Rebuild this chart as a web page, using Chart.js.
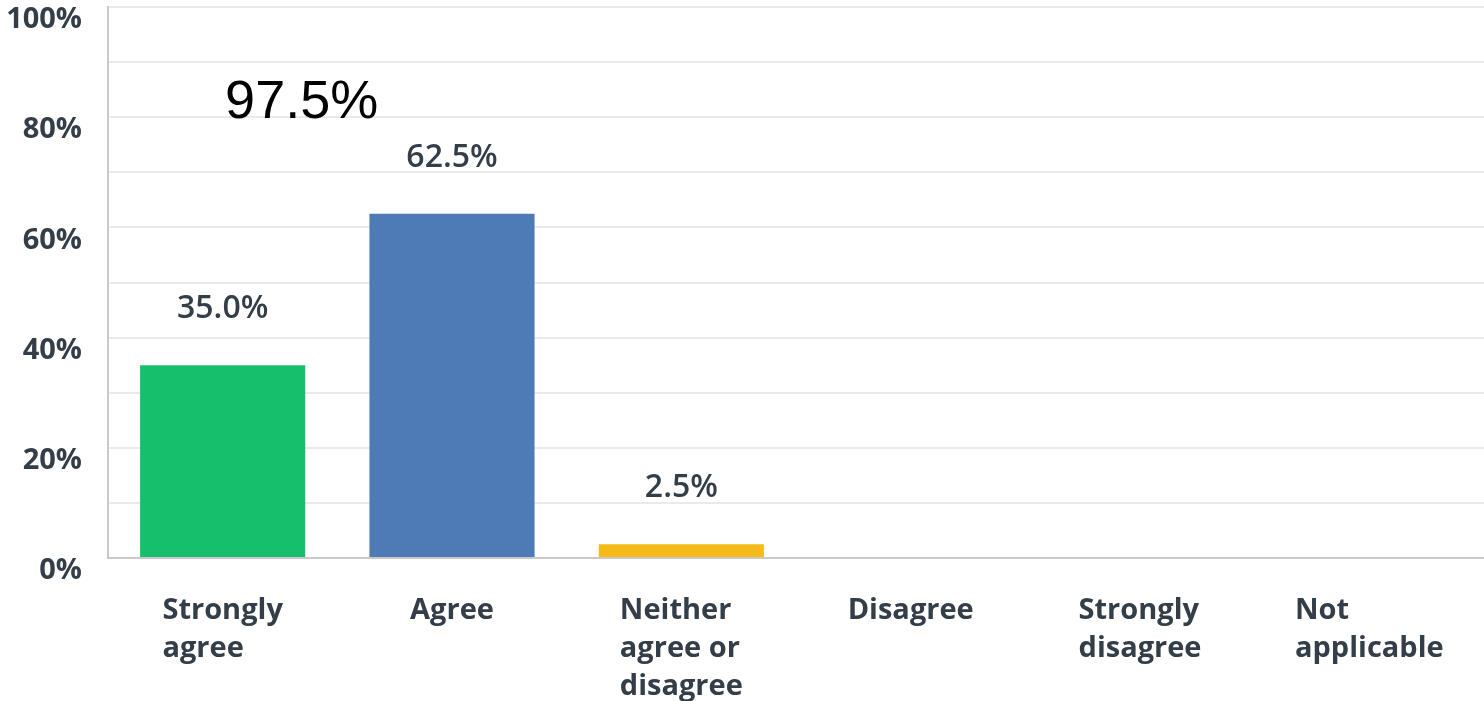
<!DOCTYPE html>
<html>
<head>
<meta charset="utf-8">
<script src="https://cdn.jsdelivr.net/npm/chart.js@4.4.0/dist/chart.umd.min.js"></script>
<style>
  html, body { margin: 0; padding: 0; background: #ffffff; }
  #wrap { width: 1484px; height: 701px; position: relative; }
</style>
</head>
<body>
<div id="wrap"><canvas id="c" width="1484" height="701"></canvas></div>
<script>
// ---- data ----
const categories = [
  ["Strongly", "agree"],
  ["Agree"],
  ["Neither", "agree or", "disagree"],
  ["Disagree"],
  ["Strongly", "disagree"],
  ["Not", "applicable"]
];
const values = [35.0, 62.5, 2.5, 0, 0, 0];
const valueLabels = ["35.0%", "62.5%", "2.5%", "", "", ""];
const barColors = ["#16bf6b", "#4e7ab5", "#f6bb1a", "#999999", "#999999", "#999999"];
const yTickLabels = { 0: "0%", 20: "20%", 40: "40%", 60: "60%", 80: "80%", 100: "100%" };
const annotationText = "97.5%";
const annotationValue = 82.5;

const textColor = "#333e48";
const labelFont = "700 29px 'Open Sans'";

const labelsPlugin = {
  id: 'customLabels',
  afterDatasetsDraw(chart) {
    const ctx = chart.ctx;
    const xs = chart.scales.x, ys = chart.scales.y;
    ctx.save();
    // value labels above bars
    ctx.font = "600 32px 'Open Sans'";
    ctx.fillStyle = textColor;
    ctx.textAlign = 'center';
    ctx.textBaseline = 'alphabetic';
    const meta = chart.getDatasetMeta(0);
    values.forEach((v, i) => {
      if (!valueLabels[i]) return;
      const bar = meta.data[i];
      ctx.fillText(valueLabels[i], bar.x, bar.y - 47);
    });
    // category labels: block centered, lines left-aligned
    ctx.font = labelFont;
    ctx.textAlign = 'left';
    ctx.textBaseline = 'alphabetic';
    categories.forEach((lines, i) => {
      const cx = xs.getPixelForValue(i);
      let maxW = 0;
      lines.forEach(l => { maxW = Math.max(maxW, ctx.measureText(l).width); });
      const left = cx - maxW / 2;
      lines.forEach((l, j) => {
        ctx.fillText(l, left, ys.bottom + 61 + j * 38);
      });
    });
    // annotation
    ctx.font = "54px 'Liberation Sans', Arial, sans-serif";
    ctx.fillStyle = "#000000";
    ctx.textAlign = 'center';
    ctx.textBaseline = 'middle';
    ctx.fillText(annotationText, xs.getPixelForValue(0) + 79, ys.getPixelForValue(annotationValue));
    ctx.restore();
  }
};

new Chart(document.getElementById('c'), {
  type: 'bar',
  data: {
    labels: categories.map(c => c.join(' ')),
    datasets: [{
      data: values,
      backgroundColor: barColors,
      borderWidth: 0,
      categoryPercentage: 1.0,
      barPercentage: 0.72
    }]
  },
  options: {
    responsive: false,
    animation: false,
    devicePixelRatio: 1,
    layout: { padding: { top: 7, right: 0, bottom: 0, left: 0 } },
    plugins: { legend: { display: false }, tooltip: { enabled: false } },
    scales: {
      x: {
        afterFit(scale) { scale.height = 143; scale.paddingLeft = 0; scale.paddingRight = 0; },
        grid: { display: false, drawTicks: false },
        border: { display: true, color: '#c9c9c9', width: 2 },
        ticks: { display: false }
      },
      y: {
        min: 0, max: 100,
        afterFit(scale) { scale.width = 108; scale.paddingTop = 0; scale.paddingBottom = 0; },
        grid: { color: '#eaeaea', lineWidth: 2, drawTicks: false },
        border: { display: true, color: '#c9c9c9', width: 2 },
        ticks: {
          stepSize: 10,
          autoSkip: false,
          padding: 26,
          labelOffset: 13,
          color: textColor,
          font: { family: "'Open Sans'", size: 29, weight: '700' },
          callback: (v) => (yTickLabels[v] !== undefined ? yTickLabels[v] : '')
        }
      }
    }
  },
  plugins: [labelsPlugin]
});
</script>
</body>
</html>
